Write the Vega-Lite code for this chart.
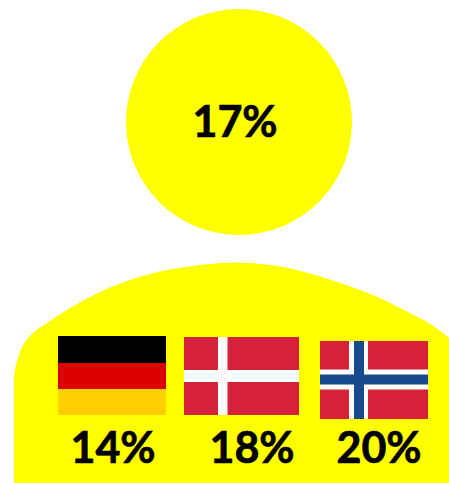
{
  "$schema": "https://vega.github.io/schema/vega-lite/v6.json",
  "width": 449,
  "height": 483,
  "padding": 0,
  "autosize": {"type": "none"},
  "background": "white",
  "view": {"stroke": null},
  "datasets": {
    "head": [{"x": 239, "y": 122}],
    "body": [
      {"x": 14, "y": 378, "b": 483},
      {"x": 15, "y": 370, "b": 483},
      {"x": 17, "y": 361, "b": 483},
      {"x": 23, "y": 345, "b": 483},
      {"x": 33, "y": 333, "b": 483},
      {"x": 43, "y": 325.5, "b": 483},
      {"x": 67, "y": 310, "b": 483},
      {"x": 100, "y": 292, "b": 483},
      {"x": 133, "y": 279, "b": 483},
      {"x": 167, "y": 270, "b": 483},
      {"x": 200, "y": 265, "b": 483},
      {"x": 225, "y": 263, "b": 483},
      {"x": 242, "y": 262.7, "b": 483},
      {"x": 275, "y": 265.5, "b": 483},
      {"x": 308, "y": 273, "b": 483},
      {"x": 342, "y": 283.5, "b": 483},
      {"x": 375, "y": 296, "b": 483},
      {"x": 408, "y": 312, "b": 483},
      {"x": 432, "y": 325, "b": 483},
      {"x": 449, "y": 338, "b": 483}
    ],
    "flags": [
      {"part": "black", "x0": 58, "x1": 166, "y0": 336, "y1": 363},
      {"part": "dered", "x0": 58, "x1": 166, "y0": 363, "y1": 389},
      {"part": "gold", "x0": 58, "x1": 166, "y0": 389, "y1": 415},
      {"part": "red", "x0": 184, "x1": 299, "y0": 337, "y1": 415},
      {"part": "white", "x0": 218, "x1": 227.5, "y0": 337, "y1": 415},
      {"part": "white", "x0": 184, "x1": 299, "y0": 370, "y1": 382},
      {"part": "red", "x0": 320, "x1": 428, "y0": 341, "y1": 419},
      {"part": "white", "x0": 349, "x1": 368, "y0": 341, "y1": 419},
      {"part": "white", "x0": 320, "x1": 428, "y0": 369.5, "y1": 389.5},
      {"part": "blue", "x0": 354, "x1": 364, "y0": 341, "y1": 419},
      {"part": "blue", "x0": 320, "x1": 428, "y0": 374.5, "y1": 384.5}
    ],
    "labels": [
      {"x": 235, "y": 124, "label": "17%"},
      {"x": 113, "y": 450, "label": "14%"},
      {"x": 252, "y": 450, "label": "18%"},
      {"x": 379, "y": 450, "label": "20%"}
    ]
  },
  "layer": [
    {
      "data": {"name": "head"},
      "mark": {"type": "point", "filled": true, "opacity": 1, "color": "#ffff00"},
      "encoding": {
        "x": {"field": "x", "type": "quantitative", "scale": {"domain": [0, 449], "nice": false, "zero": false}, "axis": null},
        "y": {"field": "y", "type": "quantitative", "scale": {"domain": [483, 0], "nice": false, "zero": false}, "axis": null},
        "size": {"value": 51076}
      }
    },
    {
      "data": {"name": "body"},
      "mark": {"type": "area", "color": "#ffff00", "opacity": 1, "interpolate": "cardinal", "clip": true},
      "encoding": {
        "x": {"field": "x", "type": "quantitative", "scale": {"domain": [0, 449], "nice": false, "zero": false}, "axis": null},
        "y": {"field": "y", "type": "quantitative", "scale": {"domain": [483, 0], "nice": false, "zero": false}, "axis": null},
        "y2": {"field": "b"}
      }
    },
    {
      "data": {"name": "flags"},
      "mark": {"type": "rect", "opacity": 1},
      "encoding": {
        "x": {"field": "x0", "type": "quantitative", "scale": {"domain": [0, 449], "nice": false, "zero": false}, "axis": null},
        "x2": {"field": "x1"},
        "y": {"field": "y0", "type": "quantitative", "scale": {"domain": [483, 0], "nice": false, "zero": false}, "axis": null},
        "y2": {"field": "y1"},
        "color": {
          "field": "part",
          "type": "nominal",
          "legend": null,
          "scale": {
            "domain": ["black", "dered", "gold", "red", "white", "blue"],
            "range": ["#000000", "#dd0000", "#ffce00", "#d52238", "#fdfdfb", "#164a8c"]
          }
        }
      }
    },
    {
      "data": {"name": "labels"},
      "mark": {"type": "text", "font": "Lato", "fontWeight": "bold", "fontSize": 43, "color": "#000000", "stroke": "#000000", "strokeWidth": 0.7, "align": "center", "baseline": "middle"},
      "encoding": {
        "x": {"field": "x", "type": "quantitative", "scale": {"domain": [0, 449], "nice": false, "zero": false}, "axis": null},
        "y": {"field": "y", "type": "quantitative", "scale": {"domain": [483, 0], "nice": false, "zero": false}, "axis": null},
        "text": {"field": "label", "type": "nominal"}
      }
    }
  ]
}
